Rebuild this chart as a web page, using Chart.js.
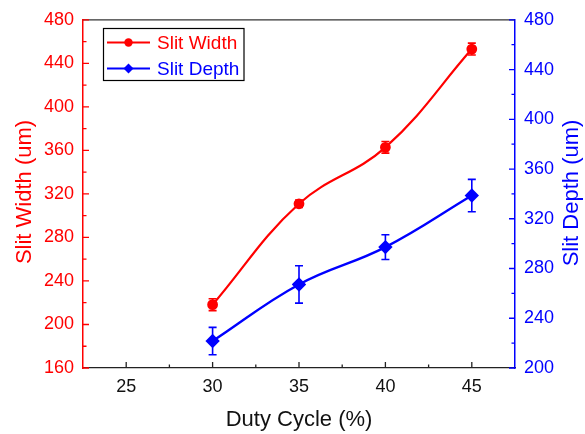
<!DOCTYPE html>
<html>
<head>
<meta charset="utf-8">
<script src="https://cdn.jsdelivr.net/npm/chart.js@4"></script>
<style>
  html, body { margin: 0; padding: 0; background: #fff; }
  #wrap { width: 585px; height: 434px; }
</style>
</head>
<body>
<div id="wrap"><canvas id="c" width="585" height="434"></canvas></div>
<script>
// data
const dutyCycle = [30, 35, 40, 45];
const slitWidth = [218.2, 310.9, 362.8, 453.1];
const slitWidthErr = [5.5, 3.4, 5.3, 5.5];
const slitDepth = [221.7, 267.2, 297.2, 338.7];
const slitDepthErr = [11, 15, 10, 13];

const xTicks = [25, 30, 35, 40, 45];
const xMinor = [27.5, 32.5, 37.5, 42.5];
const widthTicks = [160, 200, 240, 280, 320, 360, 400, 440, 480];
const depthTicks = [200, 240, 280, 320, 360, 400, 440, 480];

const FONT = '"Liberation Sans", Arial, sans-serif';
const RED = "#ff0000";
const BLUE = "#0000ff";

function fixTicks(vals) {
  return function (scale) {
    scale.ticks = vals.map((v) => ({ value: v }));
  };
}

// error bars, axis ticks pointing inward, titles, legend
const extras = {
  id: "extras",
  afterDatasetsDraw(chart) {
    const ctx = chart.ctx;
    const x = chart.scales.x;
    const errs = [slitWidthErr, slitDepthErr];
    chart.data.datasets.forEach((ds, i) => {
      const y = chart.scales[ds.yAxisID];
      ctx.save();
      ctx.strokeStyle = ds.borderColor;
      ctx.lineWidth = 1.6;
      ds.data.forEach((p, j) => {
        const px = x.getPixelForValue(p.x);
        const top = y.getPixelForValue(p.y + errs[i][j]);
        const bot = y.getPixelForValue(p.y - errs[i][j]);
        ctx.beginPath();
        ctx.moveTo(px, top); ctx.lineTo(px, bot);
        ctx.moveTo(px - 4, top); ctx.lineTo(px + 4, top);
        ctx.moveTo(px - 4, bot); ctx.lineTo(px + 4, bot);
        ctx.stroke();
      });
      ctx.restore();
    });
  },
  afterDraw(chart) {
    const ctx = chart.ctx;
    const a = chart.chartArea;
    const x = chart.scales.x, yl = chart.scales.yWidth, yr = chart.scales.yDepth;
    ctx.save();
    ctx.lineWidth = 1.3;

    // top frame line
    ctx.strokeStyle = "#333";
    ctx.beginPath();
    ctx.moveTo(a.left, a.top); ctx.lineTo(a.right, a.top);
    ctx.stroke();

    // x ticks
    ctx.strokeStyle = "#222";
    ctx.beginPath();
    xTicks.forEach((v) => { const p = x.getPixelForValue(v); ctx.moveTo(p, a.bottom); ctx.lineTo(p, a.bottom - 6); });
    xMinor.forEach((v) => { const p = x.getPixelForValue(v); ctx.moveTo(p, a.bottom); ctx.lineTo(p, a.bottom - 3.5); });
    ctx.stroke();

    // left ticks
    ctx.strokeStyle = RED;
    ctx.beginPath();
    for (let v = 160; v <= 480; v += 20) {
      const p = yl.getPixelForValue(v);
      ctx.moveTo(a.left, p); ctx.lineTo(a.left + (v % 40 === 0 ? 6 : 3.5), p);
    }
    ctx.stroke();

    // right ticks
    ctx.strokeStyle = BLUE;
    ctx.beginPath();
    for (let v = 200; v <= 480; v += 20) {
      const p = yr.getPixelForValue(v);
      ctx.moveTo(a.right, p); ctx.lineTo(a.right - (v % 40 === 0 ? 6 : 3.5), p);
    }
    ctx.stroke();

    // axis titles
    ctx.textAlign = "center";
    ctx.textBaseline = "middle";
    ctx.font = "22px " + FONT;
    ctx.fillStyle = "#111";
    ctx.fillText("Duty Cycle (%)", (a.left + a.right) / 2, 420);

    ctx.save();
    ctx.translate(25, 192);
    ctx.rotate(-Math.PI / 2);
    ctx.fillStyle = RED;
    ctx.fillText("Slit Width (um)", 0, 0);
    ctx.restore();

    ctx.save();
    ctx.translate(572, 193);
    ctx.rotate(-Math.PI / 2);
    ctx.fillStyle = BLUE;
    ctx.fillText("Slit Depth (um)", 0, 0);
    ctx.restore();

    // legend box
    ctx.strokeStyle = "#000";
    ctx.lineWidth = 1.2;
    ctx.strokeRect(103.5, 28.5, 140.5, 52);
    const rows = [
      { label: "Slit Width", color: RED, y: 42.5, diamond: false },
      { label: "Slit Depth", color: BLUE, y: 68.5, diamond: true },
    ];
    ctx.font = "19px " + FONT;
    ctx.textAlign = "left";
    rows.forEach((r) => {
      ctx.strokeStyle = r.color;
      ctx.fillStyle = r.color;
      ctx.lineWidth = 2;
      ctx.beginPath();
      ctx.moveTo(107, r.y); ctx.lineTo(150, r.y);
      ctx.stroke();
      ctx.beginPath();
      if (r.diamond) {
        ctx.moveTo(128.5, r.y - 5); ctx.lineTo(133.5, r.y);
        ctx.lineTo(128.5, r.y + 5); ctx.lineTo(123.5, r.y);
        ctx.closePath();
      } else {
        ctx.arc(128.5, r.y, 4.2, 0, Math.PI * 2);
      }
      ctx.fill();
      ctx.fillText(r.label, 157, r.y + 1);
    });
    ctx.restore();
  },
};

new Chart(document.getElementById("c"), {
  type: "line",
  data: {
    datasets: [
      {
        label: "Slit Width",
        data: dutyCycle.map((d, i) => ({ x: d, y: slitWidth[i] })),
        yAxisID: "yWidth",
        borderColor: RED,
        backgroundColor: RED,
        borderWidth: 2.2,
        pointStyle: "circle",
        pointRadius: 4.3,
        tension: 0.4,
      },
      {
        label: "Slit Depth",
        data: dutyCycle.map((d, i) => ({ x: d, y: slitDepth[i] })),
        yAxisID: "yDepth",
        borderColor: BLUE,
        backgroundColor: BLUE,
        borderWidth: 2.4,
        pointStyle: "rectRot",
        pointRadius: 5.5,
        tension: 0.4,
      },
    ],
  },
  options: {
    responsive: false,
    animation: false,
    events: [],
    layout: { padding: { top: 19, left: 0, right: 0, bottom: 0 } },
    plugins: { legend: { display: false }, tooltip: { enabled: false } },
    scales: {
      x: {
        type: "linear",
        min: 22.5,
        max: 47.5,
        afterBuildTicks: fixTicks(xTicks),
        afterFit(s) { s.height = 66; },
        grid: { display: false, drawTicks: false },
        border: { display: true, color: "#222", width: 1.3 },
        ticks: { color: "#111", padding: 8, font: { size: 18, family: FONT }, maxRotation: 0 },
      },
      yWidth: {
        position: "left",
        min: 160,
        max: 480,
        afterBuildTicks: fixTicks(widthTicks),
        afterFit(s) { s.width = 83; },
        grid: { display: false, drawTicks: false },
        border: { display: true, color: RED, width: 1.5 },
        ticks: { color: RED, padding: 9, font: { size: 18, family: FONT } },
      },
      yDepth: {
        position: "right",
        min: 200,
        max: 480,
        afterBuildTicks: fixTicks(depthTicks),
        afterFit(s) { s.width = 70; },
        grid: { display: false, drawTicks: false },
        border: { display: true, color: BLUE, width: 1.5 },
        ticks: { color: BLUE, padding: 9, font: { size: 18, family: FONT } },
      },
    },
  },
  plugins: [extras],
});
</script>
</body>
</html>
